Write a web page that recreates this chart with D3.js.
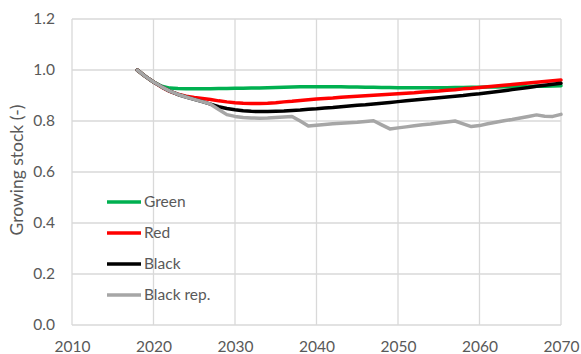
<!DOCTYPE html>
<html>
<head>
<meta charset="utf-8">
<script src="https://cdn.jsdelivr.net/npm/d3@7"></script>
<style>
  html, body { margin: 0; padding: 0; background: #fff; }
  svg { display: block; }
  text { font-family: Lato, "Open Sans", sans-serif; fill: #595959; }
</style>
</head>
<body>
<svg id="chart" width="581" height="354"></svg>
<script>
// Scenario years
const years = d3.range(2018, 2071);

// Relative growing stock per scenario, yearly
const green = [1.000,0.975,0.953,0.936,0.929,0.927,0.926,0.926,0.926,0.926,0.927,0.927,0.928,0.928,0.929,0.929,0.930,0.931,0.932,0.933,0.934,0.934,0.934,0.934,0.934,0.934,0.933,0.933,0.932,0.932,0.931,0.931,0.930,0.930,0.930,0.930,0.930,0.930,0.930,0.931,0.931,0.932,0.932,0.933,0.933,0.934,0.934,0.935,0.935,0.936,0.936,0.937,0.938];
const red = [1.000,0.975,0.953,0.933,0.916,0.905,0.897,0.892,0.888,0.884,0.879,0.875,0.872,0.870,0.869,0.869,0.870,0.872,0.875,0.877,0.880,0.883,0.886,0.888,0.890,0.893,0.895,0.897,0.899,0.901,0.903,0.905,0.907,0.909,0.911,0.914,0.916,0.918,0.921,0.923,0.926,0.928,0.931,0.934,0.937,0.940,0.943,0.946,0.949,0.952,0.955,0.958,0.961];
const black = [1.000,0.975,0.953,0.934,0.917,0.904,0.894,0.885,0.876,0.866,0.856,0.849,0.844,0.840,0.838,0.837,0.837,0.838,0.839,0.841,0.843,0.846,0.848,0.851,0.853,0.856,0.859,0.862,0.864,0.867,0.870,0.873,0.876,0.879,0.882,0.885,0.888,0.891,0.894,0.897,0.900,0.904,0.907,0.911,0.915,0.919,0.923,0.927,0.931,0.936,0.940,0.944,0.948];
const blackRep = [1.000,0.975,0.953,0.934,0.917,0.904,0.894,0.885,0.876,0.866,0.845,0.825,0.818,0.814,0.812,0.811,0.812,0.814,0.816,0.818,0.800,0.780,0.783,0.786,0.789,0.791,0.793,0.795,0.798,0.801,0.785,0.769,0.773,0.777,0.781,0.785,0.788,0.792,0.796,0.800,0.789,0.778,0.782,0.789,0.795,0.801,0.806,0.812,0.818,0.824,0.819,0.818,0.826];

const seriesNames = ["Green", "Red", "Black", "Black rep."];
const seriesColors = ["#00b050", "#ff0000", "#000000", "#a6a6a6"];
const seriesValues = [green, red, black, blackRep];

const xTicks = [2010, 2020, 2030, 2040, 2050, 2060, 2070];
const yTicks = [0, 0.2, 0.4, 0.6, 0.8, 1.0, 1.2];
const yTitle = "Growing stock (-)";

const svg = d3.select("#chart");
const plot = { left: 72, right: 561, top: 19, bottom: 325 };

const x = d3.scaleLinear().domain([2010, 2070]).range([plot.left, plot.right]);
const y = d3.scaleLinear().domain([0, 1.2]).range([plot.bottom, plot.top]);

// Gridlines
const grid = svg.append("g").attr("stroke", "#d9d9d9").attr("stroke-width", 1.3);
grid.selectAll("line.h").data(yTicks).join("line")
  .attr("x1", plot.left).attr("x2", plot.right)
  .attr("y1", d => y(d)).attr("y2", d => y(d));
grid.selectAll("line.v").data(xTicks).join("line")
  .attr("y1", plot.top).attr("y2", plot.bottom)
  .attr("x1", d => x(d)).attr("x2", d => x(d));

// Axes (labels only, lines come from the grid)
const yAxis = svg.append("g")
  .attr("transform", `translate(${plot.left},0)`)
  .call(d3.axisLeft(y).tickValues(yTicks).tickFormat(d3.format(".1f")).tickSize(0).tickPadding(17));
const xAxis = svg.append("g")
  .attr("transform", `translate(0,${plot.bottom})`)
  .call(d3.axisBottom(x).tickValues(xTicks).tickFormat(d3.format("d")).tickSize(0).tickPadding(16));
[yAxis, xAxis].forEach(a => {
  a.select(".domain").remove();
  a.selectAll("text").attr("font-size", 15.5).attr("fill", "#595959")
    .style("font-family", "Lato, 'Open Sans', sans-serif");
});

// Y axis title
svg.append("text")
  .attr("transform", `translate(23,${(plot.top + plot.bottom) / 2 - 2}) rotate(-90)`)
  .attr("text-anchor", "middle")
  .attr("font-size", 17.5)
  .text(yTitle);

// Series lines
const line = d3.line().x(d => x(d[0])).y(d => y(d[1]));
seriesValues.forEach((vals, i) => {
  svg.append("path")
    .datum(years.map((yr, j) => [yr, vals[j]]))
    .attr("fill", "none")
    .attr("stroke", seriesColors[i])
    .attr("stroke-width", 3.5)
    .attr("stroke-linejoin", "round")
    .attr("stroke-linecap", "round")
    .attr("d", line);
});

// Legend
const legend = svg.append("g");
const legendTop = 202, legendStep = 31;
seriesNames.forEach((name, i) => {
  const ly = legendTop + i * legendStep;
  legend.append("line")
    .attr("x1", 107).attr("x2", 141).attr("y1", ly).attr("y2", ly)
    .attr("stroke", seriesColors[i]).attr("stroke-width", 3.5);
  legend.append("text")
    .attr("x", 144).attr("y", ly).attr("dy", "0.35em")
    .attr("font-size", 15.5)
    .text(name);
});
</script>
</body>
</html>
